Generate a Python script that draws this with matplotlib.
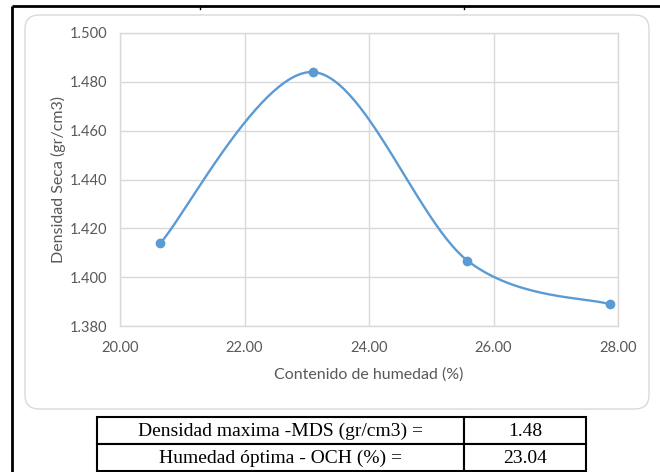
import numpy as np
import matplotlib
matplotlib.use("Agg")
import matplotlib.pyplot as plt
from matplotlib.patches import FancyBboxPatch, Rectangle

# Proctor compaction test results
humedad = [20.65, 23.10, 25.58, 27.87]          # moisture content (%)
densidad = [1.4140, 1.4840, 1.4068, 1.3889]      # dry density (gr/cm3)

x_ticks = [20.0, 22.0, 24.0, 26.0, 28.0]
y_ticks = [1.380, 1.400, 1.420, 1.440, 1.460, 1.480, 1.500]

tabla_etiquetas = ["Densidad maxima -MDS (gr/cm3) =", "Humedad óptima - OCH (%) ="]
tabla_valores = ["1.48", "23.04"]

W, H = 660, 472
fig = plt.figure(figsize=(W / 100, H / 100), dpi=100)

# background layer in pixel units (frame, chart card, results table)
bg = fig.add_axes([0, 0, 1, 1], zorder=0)
bg.set_xlim(0, W)
bg.set_ylim(H, 0)
bg.axis("off")

bg.plot([12, 12], [6, H], color="black", lw=2.0, solid_capstyle="butt")
bg.plot([12, W], [6, 6], color="black", lw=2.0, solid_capstyle="butt")
bg.plot([200, 200], [6, 9], color="black", lw=1.0)
bg.plot([464, 464], [6, 9], color="black", lw=1.0)

card = FancyBboxPatch((25, 15), 624, 394, boxstyle="round,pad=0,rounding_size=14",
                      facecolor="white", edgecolor="#d9d9d9", lw=1.0)
bg.add_patch(card)

# results table
tx0, tx1, tx2 = 97, 464, 586
ty = [417, 444, 471]
for i in range(2):
    bg.add_patch(Rectangle((tx0, ty[i]), tx1 - tx0, ty[i + 1] - ty[i],
                           facecolor="white", edgecolor="black", lw=1.5))
    bg.add_patch(Rectangle((tx1, ty[i]), tx2 - tx1, ty[i + 1] - ty[i],
                           facecolor="white", edgecolor="black", lw=1.5))
    cy = (ty[i] + ty[i + 1]) / 2 + 1
    bg.text((tx0 + tx1) / 2, cy, tabla_etiquetas[i], ha="center", va="center",
            family="Liberation Serif", fontsize=14)
    bg.text((tx1 + tx2) / 2, cy, tabla_valores[i], ha="center", va="center",
            family="Liberation Serif", fontsize=14)

# plot area
px0, px1, py0, py1 = 120, 618, 33, 326
ax = fig.add_axes([px0 / W, 1 - py1 / H, (px1 - px0) / W, (py1 - py0) / H], zorder=1)
ax.set_xlim(x_ticks[0], x_ticks[-1])
ax.set_ylim(y_ticks[0], y_ticks[-1])

# smoothed curve: Catmull-Rom spline evaluated in screen proportions
sx = (px1 - px0) / (x_ticks[-1] - x_ticks[0])
sy = (py1 - py0) / (y_ticks[-1] - y_ticks[0])
P = np.column_stack([np.array(humedad) * sx, np.array(densidad) * sy])
Pext = np.vstack([P[0], P, P[-1]])
curve = []
t = np.linspace(0, 1, 60)[:, None]
for i in range(len(P) - 1):
    p0, p1, p2, p3 = Pext[i], Pext[i + 1], Pext[i + 2], Pext[i + 3]
    c1 = p1 + (p2 - p0) / 6
    c2 = p2 - (p3 - p1) / 6
    seg = ((1 - t) ** 3) * p1 + 3 * ((1 - t) ** 2) * t * c1 + 3 * (1 - t) * t ** 2 * c2 + t ** 3 * p2
    curve.append(seg)
curve = np.vstack(curve)
ax.plot(curve[:, 0] / sx, curve[:, 1] / sy, color="#5B9BD5", lw=1.7, zorder=3,
        solid_capstyle="round")
ax.plot(humedad, densidad, "o", color="#5B9BD5", ms=6, zorder=4)

ax.set_xticks(x_ticks)
ax.set_yticks(y_ticks)
ax.set_xticklabels([f"{v:.2f}" for v in x_ticks])
ax.set_yticklabels([f"{v:.3f}" for v in y_ticks])
ax.grid(True, color="#d9d9d9", lw=1.0)
ax.set_axisbelow(True)
for s in ax.spines.values():
    s.set_color("#d9d9d9")
    s.set_linewidth(1.0)
ax.tick_params(length=0, colors="#595959", labelsize=10.5)
ax.tick_params(axis="x", pad=11)
ax.tick_params(axis="y", pad=9)
for lab in ax.get_xticklabels() + ax.get_yticklabels():
    lab.set_family("Lato")

ax.set_xlabel("Contenido de humedad (%)", family="Lato", fontsize=11.5,
              color="#595959", labelpad=9)
ax.set_ylabel("Densidad Seca (gr/cm3)", family="Lato", fontsize=11.5,
              color="#595959", labelpad=3)

fig.savefig("out.png", dpi=100)
